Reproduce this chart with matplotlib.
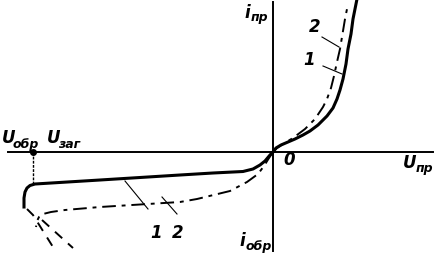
import numpy as np
import matplotlib.pyplot as plt

# diode I-V sketch, units are arbitrary
u1_fwd = [0, 3, 8, 15, 22, 30, 37, 45, 54, 60, 64, 67, 70, 73, 75, 78, 80, 84]
i1_fwd = [0, 4, 7, 10, 13, 17, 21, 27, 36, 44, 53, 62, 73, 88, 103, 118, 133, 153]
u2_fwd = [0, 4, 10, 20, 32, 42, 50, 54, 58, 61, 64, 67, 72, 75]
i2_fwd = [0, 4, 8, 14, 23, 33, 45, 53, 64, 76, 90, 103, 133, 148]

u1_rev = [0, -3, -8, -13, -20, -30, -60, -93, -173, -238, -243, -246, -248, -249, -249]
i1_rev = [0, -3, -9, -13, -17, -19.5, -21, -23, -28, -32, -33.5, -36, -40, -46, -55]
u2_rev = [0, -4, -9, -15, -26, -43, -76, -93, -173, -208, -222, -230, -234, -236, -237]
i2_rev = [0, -6, -14, -22, -30, -39, -47, -50, -55, -58, -60, -62, -65, -69, -75]

# breakdown branches (dashed)
u1_brk = [-246, -240, -220]
i1_brk = [-57, -63, -95]
u2_brk = [-231, -200]
i2_brk = [-68, -96]

u_zag = -240  # breakdown voltage mark

fig = plt.figure(figsize=(4.39, 2.55), dpi=100)
ax = fig.add_axes([0, 0, 1, 1])
ax.set_xlim(-273, 166)
ax.set_ylim(-102, 153)
ax.axis('off')

# axes
ax.plot([-265, 160], [0, 0], color='k', lw=1.4)
ax.plot([0, 0], [-99, 150], color='k', lw=1.4)

# curve 1 (solid) and 2 (dash-dot)
dd = (0, (7, 3, 2, 3))
ax.plot(u1_fwd, i1_fwd, color='k', lw=2.2, solid_joinstyle='round')
ax.plot(u1_rev, i1_rev, color='k', lw=2.2, solid_joinstyle='round')
ax.plot(u2_fwd, i2_fwd, color='k', lw=1.4, linestyle=dd)
ax.plot(u2_rev, i2_rev, color='k', lw=1.4, linestyle=dd)
ax.plot(u1_brk, i1_brk, color='k', lw=1.4, linestyle=(0, (5, 4)))
ax.plot(u2_brk, i2_brk, color='k', lw=1.4, linestyle=(0, (5, 4)))

# breakdown voltage marker
ax.plot([u_zag, u_zag], [0, -32], color='k', lw=1, linestyle=(0, (2, 1)))
ax.plot([u_zag], [0], 'o', color='k', ms=4)

# leader lines
ax.plot([49, 66], [115, 105], color='k', lw=0.8)
ax.plot([50, 69], [86, 78], color='k', lw=0.8)
ax.plot([-148, -125], [-29, -57], color='k', lw=0.8)
ax.plot([-111, -96], [-45, -62], color='k', lw=0.8)

fam = ['DejaVu Sans Condensed', 'Liberation Sans Narrow', 'DejaVu Sans']
big = dict(fontsize=12, style='italic', family=fam, va='baseline', ha='left',
           weight='bold')
sub = dict(fontsize=9, style='italic', family=fam, va='baseline', ha='left',
           weight='bold')

ax.text(-271, 10, 'U', **big)
ax.text(-260, 5, 'обр', **sub)
ax.text(-226, 10, 'U', **big)
ax.text(-215, 5, 'заг', **sub)
ax.text(-29, 135, 'i', **big)
ax.text(-22, 132, 'пр', **sub)
ax.text(-34, -93, 'i', **big)
ax.text(-27, -97, 'обр', **sub)
ax.text(130, -15, 'U', **big)
ax.text(143, -19, 'пр', **sub)
ax.text(10, -12, '0', **big)
ax.text(36, 121, '2', **big)
ax.text(30, 88, '1', **big)
ax.text(-123, -85, '1', **big)
ax.text(-101, -85, '2', **big)

fig.savefig('out.png', dpi=100)
